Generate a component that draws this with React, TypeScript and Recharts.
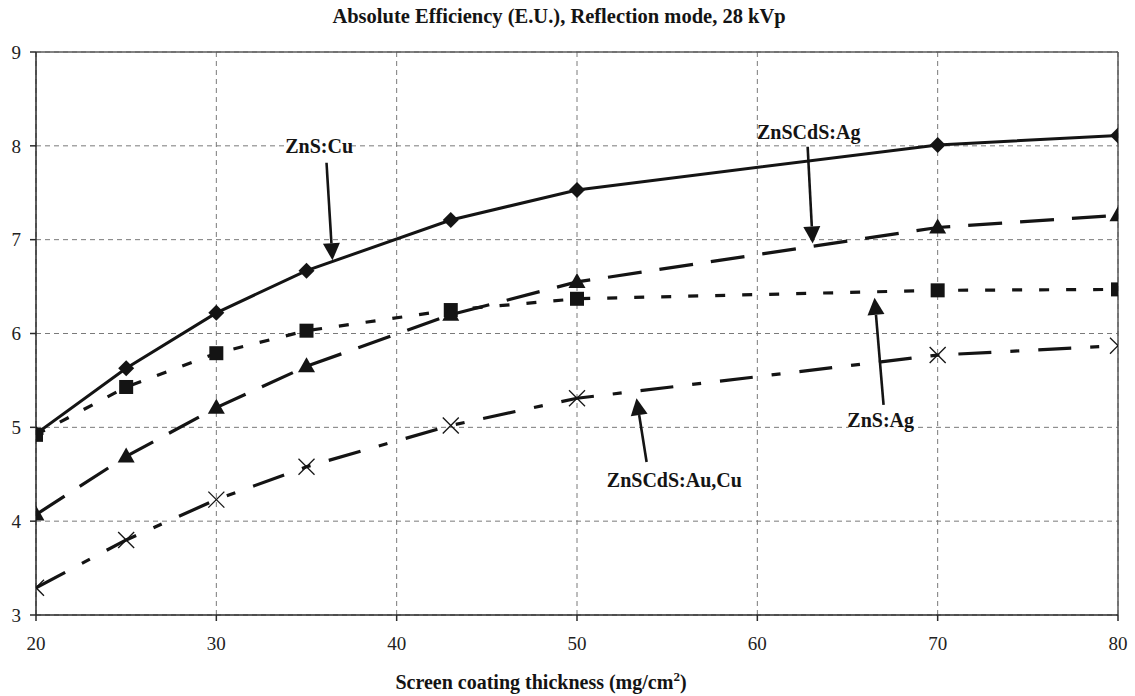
import React from 'react';
import { LineChart, Line, XAxis, YAxis, CartesianGrid, ReferenceLine, ReferenceDot } from 'recharts';

// Screen coating thickness (mg/cm^2)
const thickness = [20, 25, 30, 35, 43, 50, 70, 80];
// Absolute efficiency (E.U.)
const znsCu = [4.93, 5.63, 6.22, 6.67, 7.21, 7.53, 8.01, 8.11];
const znsAg = [4.92, 5.43, 5.79, 6.03, 6.25, 6.37, 6.46, 6.47];
const zncdsAg = [4.07, 4.69, 5.21, 5.65, 6.2, 6.55, 7.13, 7.26];
const zncdsAuCu = [3.29, 3.8, 4.23, 4.58, 5.02, 5.31, 5.77, 5.87];

const xTicks = [20, 30, 40, 50, 60, 70, 80];
const yTicks = [3, 4, 5, 6, 7, 8, 9];

const title = 'Absolute Efficiency (E.U.), Reflection mode, 28 kVp';
const xLabel = 'Screen coating thickness (mg/cm';

// Annotations: label text, label position, arrow start -> arrow tip (data units)
const annLabels = ['ZnS:Cu', 'ZnSCdS:Ag', 'ZnS:Ag', 'ZnSCdS:Au,Cu'];
const annLabelX = [35.7, 62.85, 66.84, 55.4];
const annLabelY = [8.0, 8.15, 5.08, 4.44];
const arrowX1 = [36.11, 62.79, 67.0, 53.86];
const arrowY1 = [7.82, 7.99, 5.24, 4.63];
const arrowX2 = [36.44, 63.07, 66.5, 53.3];
const arrowY2 = [6.78, 6.96, 6.38, 5.31];

const data = thickness.map((x, i) => ({
  x,
  cu: znsCu[i],
  ag: znsAg[i],
  cdsag: zncdsAg[i],
  aucu: zncdsAuCu[i],
}));

const FONT = 'Liberation Serif, Tinos, Times New Roman, DejaVu Serif, serif';
const INK = '#141414';

const Diamond = (p: any) => {
  const { cx, cy } = p;
  if (cx == null || cy == null) return <g key={p.key} />;
  return (
    <polygon key={p.key} points={`${cx},${cy - 8} ${cx + 8},${cy} ${cx},${cy + 8} ${cx - 8},${cy}`} fill={INK} />
  );
};
const Square = (p: any) => {
  const { cx, cy } = p;
  if (cx == null || cy == null) return <g key={p.key} />;
  return <rect key={p.key} x={cx - 7} y={cy - 7} width={14} height={14} fill={INK} />;
};
const Triangle = (p: any) => {
  const { cx, cy } = p;
  if (cx == null || cy == null) return <g key={p.key} />;
  return <polygon key={p.key} points={`${cx},${cy - 9} ${cx + 8.5},${cy + 6} ${cx - 8.5},${cy + 6}`} fill={INK} />;
};
const Cross = (p: any) => {
  const { cx, cy } = p;
  if (cx == null || cy == null) return <g key={p.key} />;
  return (
    <g key={p.key}>
      <line x1={cx - 8} y1={cy - 8} x2={cx + 8} y2={cy + 8} stroke={INK} strokeWidth={1.3} />
      <line x1={cx - 8} y1={cy + 8} x2={cx + 8} y2={cy - 8} stroke={INK} strokeWidth={1.3} />
    </g>
  );
};

const Arrow = (p: any) => {
  const { x1, y1, x2, y2 } = p;
  const dx = x2 - x1;
  const dy = y2 - y1;
  const len = Math.sqrt(dx * dx + dy * dy) || 1;
  const ux = dx / len;
  const uy = dy / len;
  const headL = 17;
  const headW = 8.5;
  const bx = x2 - ux * headL;
  const by = y2 - uy * headL;
  const px = -uy;
  const py = ux;
  return (
    <g>
      <line x1={x1} y1={y1} x2={bx} y2={by} stroke={INK} strokeWidth={2.6} />
      <polygon
        points={`${x2},${y2} ${bx + px * headW},${by + py * headW} ${bx - px * headW},${by - py * headW}`}
        fill={INK}
      />
    </g>
  );
};

const makeLabel = (text: string) => (p: any) => {
  const { cx, cy } = p;
  const w = text.length * 10.6;
  return (
    <g>
      <rect x={cx - w / 2} y={cy - 9} width={w} height={17} fill="#fff" />
      <text
        x={cx}
        y={cy}
        dy="0.35em"
        textAnchor="middle"
        style={{ fontFamily: FONT, fontWeight: 'bold', fontSize: 20 }}
        fill={INK}
      >
        {text}
      </text>
    </g>
  );
};

export default function App() {
  return (
    <div style={{ position: 'absolute', left: 0, top: 0, width: 1135, height: 696, background: '#fff', fontFamily: FONT }}>
      <LineChart width={1135} height={696} data={data} margin={{ top: 52, right: 17, left: 6, bottom: 51 }} style={{ fontFamily: FONT }}>
        <CartesianGrid stroke="#7a7a7a" strokeDasharray="5 4" strokeWidth={1} />
        <XAxis
          type="number"
          dataKey="x"
          domain={[20, 80]}
          ticks={xTicks}
          height={30}
          stroke="#2a2a2a"
          strokeWidth={1.5}
          tickSize={6}
          tickMargin={16}
          tick={{ style: { fontFamily: FONT }, fontSize: 19, fill: '#222' }}
          allowDataOverflow
        />
        <YAxis
          type="number"
          domain={[3, 9]}
          ticks={yTicks}
          width={30}
          stroke="#2a2a2a"
          strokeWidth={1.5}
          tickSize={6}
          tickMargin={9}
          tick={{ style: { fontFamily: FONT }, fontSize: 19, fill: '#222' }}
          allowDataOverflow
        />
        <ReferenceLine y={9} stroke="#5a5a5a" strokeWidth={1.5} />
        <ReferenceLine x={80} stroke="#5a5a5a" strokeWidth={1.5} />

        {annLabels.map((t, i) => (
          <ReferenceLine
            key={'a' + i}
            segment={[
              { x: arrowX1[i], y: arrowY1[i] },
              { x: arrowX2[i], y: arrowY2[i] },
            ]}
            shape={Arrow}
          />
        ))}
        {annLabels.map((t, i) => (
          <ReferenceDot key={'l' + i} x={annLabelX[i]} y={annLabelY[i]} r={0} shape={makeLabel(t)} />
        ))}

        <Line
          type="linear"
          dataKey="cu"
          stroke={INK}
          strokeWidth={3}
          dot={Diamond}
          activeDot={false}
          isAnimationActive={false}
        />
        <Line
          type="linear"
          dataKey="ag"
          stroke={INK}
          strokeWidth={3.2}
          strokeDasharray="10 17"
          dot={Square}
          activeDot={false}
          isAnimationActive={false}
        />
        <Line
          type="linear"
          dataKey="cdsag"
          stroke={INK}
          strokeWidth={3.2}
          strokeDasharray="34 18"
          dot={Triangle}
          activeDot={false}
          isAnimationActive={false}
        />
        <Line
          type="linear"
          dataKey="aucu"
          stroke={INK}
          strokeWidth={3.2}
          strokeDasharray="33 19 9 19"
          dot={Cross}
          activeDot={false}
          isAnimationActive={false}
        />

        <text x={559} y={23} textAnchor="middle" style={{ fontFamily: FONT, fontWeight: 'bold', fontSize: 20.5 }} fill={INK}>
          {title}
        </text>
        <text x={541} y={689} textAnchor="middle" style={{ fontFamily: FONT, fontWeight: 'bold', fontSize: 20 }} fill={INK}>
          {xLabel}
          <tspan dy={-8} style={{ fontSize: 13 }}>2</tspan>
          <tspan dy={8}>)</tspan>
        </text>
      </LineChart>
    </div>
  );
}
